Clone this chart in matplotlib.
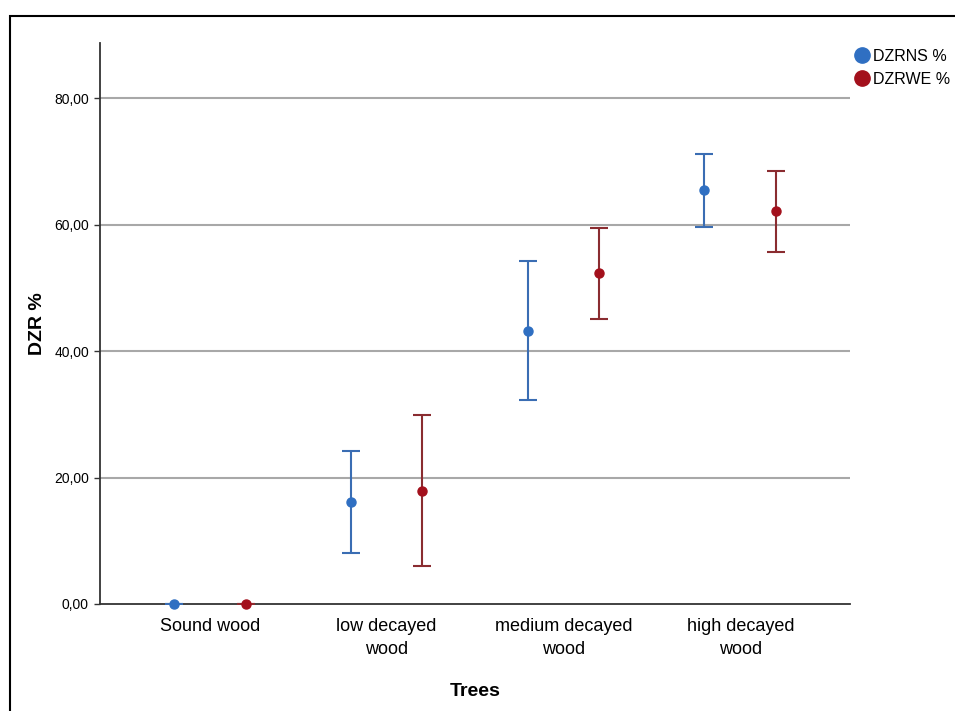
import matplotlib
matplotlib.use("Agg")
import matplotlib.pyplot as plt
from matplotlib.patches import Rectangle
from matplotlib.lines import Line2D
import numpy as np

plt.rcParams['font.family'] = ['Liberation Sans', 'DejaVu Sans']

categories = ['Sound wood', 'low decayed\nwood', 'medium decayed\nwood', 'high decayed\nwood']
dzrns_mean = [0.0, 16.1, 43.2, 65.5]
dzrns_low = [0.0, 8.1, 32.3, 59.6]
dzrns_high = [0.0, 24.2, 54.2, 71.1]
dzrwe_mean = [0.0, 17.9, 52.3, 62.1]
dzrwe_low = [0.0, 6.0, 45.1, 55.7]
dzrwe_high = [0.0, 29.9, 59.4, 68.5]
yticks = [0, 20, 40, 60, 80]
ytick_labels = ['0,00', '20,00', '40,00', '60,00', '80,00']

blue = '#2f6fc2'
blue_bar = '#3a6db3'
red = '#a3101c'
red_bar = '#8a2c30'

fig = plt.figure(figsize=(9.55, 7.11), dpi=100)
ax = fig.add_axes([0.1047, 0.1505, 0.7853, 0.789])

x = np.arange(len(categories))
off = 0.203

for xs, m, lo, hi, fc, ec in [(x - off, dzrns_mean, dzrns_low, dzrns_high, blue, blue_bar),
                              (x + off, dzrwe_mean, dzrwe_low, dzrwe_high, red, red_bar)]:
    m = np.array(m)
    err = [m - np.array(lo), np.array(hi) - m]
    ax.errorbar(xs, m, yerr=err, fmt='none', ecolor=ec, elinewidth=1.5,
                capsize=6.5, capthick=1.5, zorder=3)
    ax.plot(xs, m, 'o', color=fc, markersize=6.5, zorder=4, clip_on=False)

for v in yticks[1:]:
    ax.axhline(v, color='#a8a8a8', lw=1.5, zorder=1)

ax.set_xlim(-0.62, 3.62)
ax.set_ylim(0, 88.7)
ax.set_yticks(yticks)
ax.set_yticklabels(ytick_labels, fontsize=10)
ax.set_xticks(x)
ax.set_xticklabels(categories, fontsize=13, linespacing=1.45)
ax.tick_params(axis='x', length=0, pad=10)
ax.tick_params(axis='y', length=4, width=1, color='#333333', pad=4)
for s in ['top', 'right']:
    ax.spines[s].set_visible(False)
for s in ['left', 'bottom']:
    ax.spines[s].set_color('#333333')
    ax.spines[s].set_linewidth(1.3)

ax.set_ylabel('DZR %', fontsize=14, fontweight='bold', labelpad=6)
ax.set_xlabel('Trees', fontsize=14, fontweight='bold', labelpad=18)

handles = [Line2D([], [], marker='o', ls='none', color=blue, markersize=11),
           Line2D([], [], marker='o', ls='none', color=red, markersize=11)]
fig.legend(handles, ['DZRNS %', 'DZRWE %'], loc='upper left',
           bbox_to_anchor=(0.888, 0.94), frameon=False, fontsize=11.5,
           handletextpad=0.15, labelspacing=0.5, borderaxespad=0, handlelength=1.0)

fig.patches.append(Rectangle((0.0105, -0.02), 1.2, 0.9975, transform=fig.transFigure,
                             fill=False, ec='black', lw=1.5))

fig.savefig('out.png', dpi=100)
